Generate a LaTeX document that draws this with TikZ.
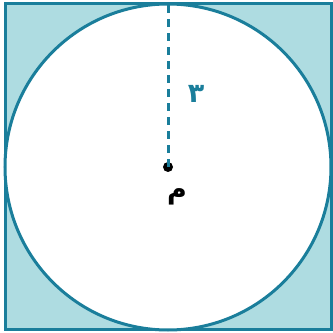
\documentclass[tikz,border=0pt]{standalone}
\usepackage{fontspec}
\newfontfamily\arabicfont[Script=Arabic]{DejaVu Sans}
\TeXXeTstate=1
\definecolor{edgeteal}{HTML}{1A7E9B}
\definecolor{fillblue}{HTML}{AEDCE1}
\begin{document}
\begin{tikzpicture}[x=0.03cm,y=0.03cm]
\useasboundingbox (0,0) rectangle (333,333);
\draw[line width=0.09cm,draw=edgeteal,fill=fillblue] (5,3) rectangle (331,329);
\draw[line width=0.09cm,draw=edgeteal,fill=white] (168,166) circle (163);
\coordinate (top) at (168,329);
\node[circle,fill=black,inner sep=0pt,minimum size=0.3cm] (centre) at (168,166) {};
\draw[line width=0.09cm,draw=edgeteal,dash pattern=on 0.24cm off 0.18cm] (centre.center) -- (top);
\node[text=edgeteal,font=\arabicfont\bfseries\fontsize{23}{26}\selectfont] (radius) at (196,239) {\beginR ٣\endR};
\node[font=\arabicfont\bfseries\fontsize{23}{26}\selectfont] (label) at (177,136) {^^^^fee1};
\end{tikzpicture}
\end{document}
